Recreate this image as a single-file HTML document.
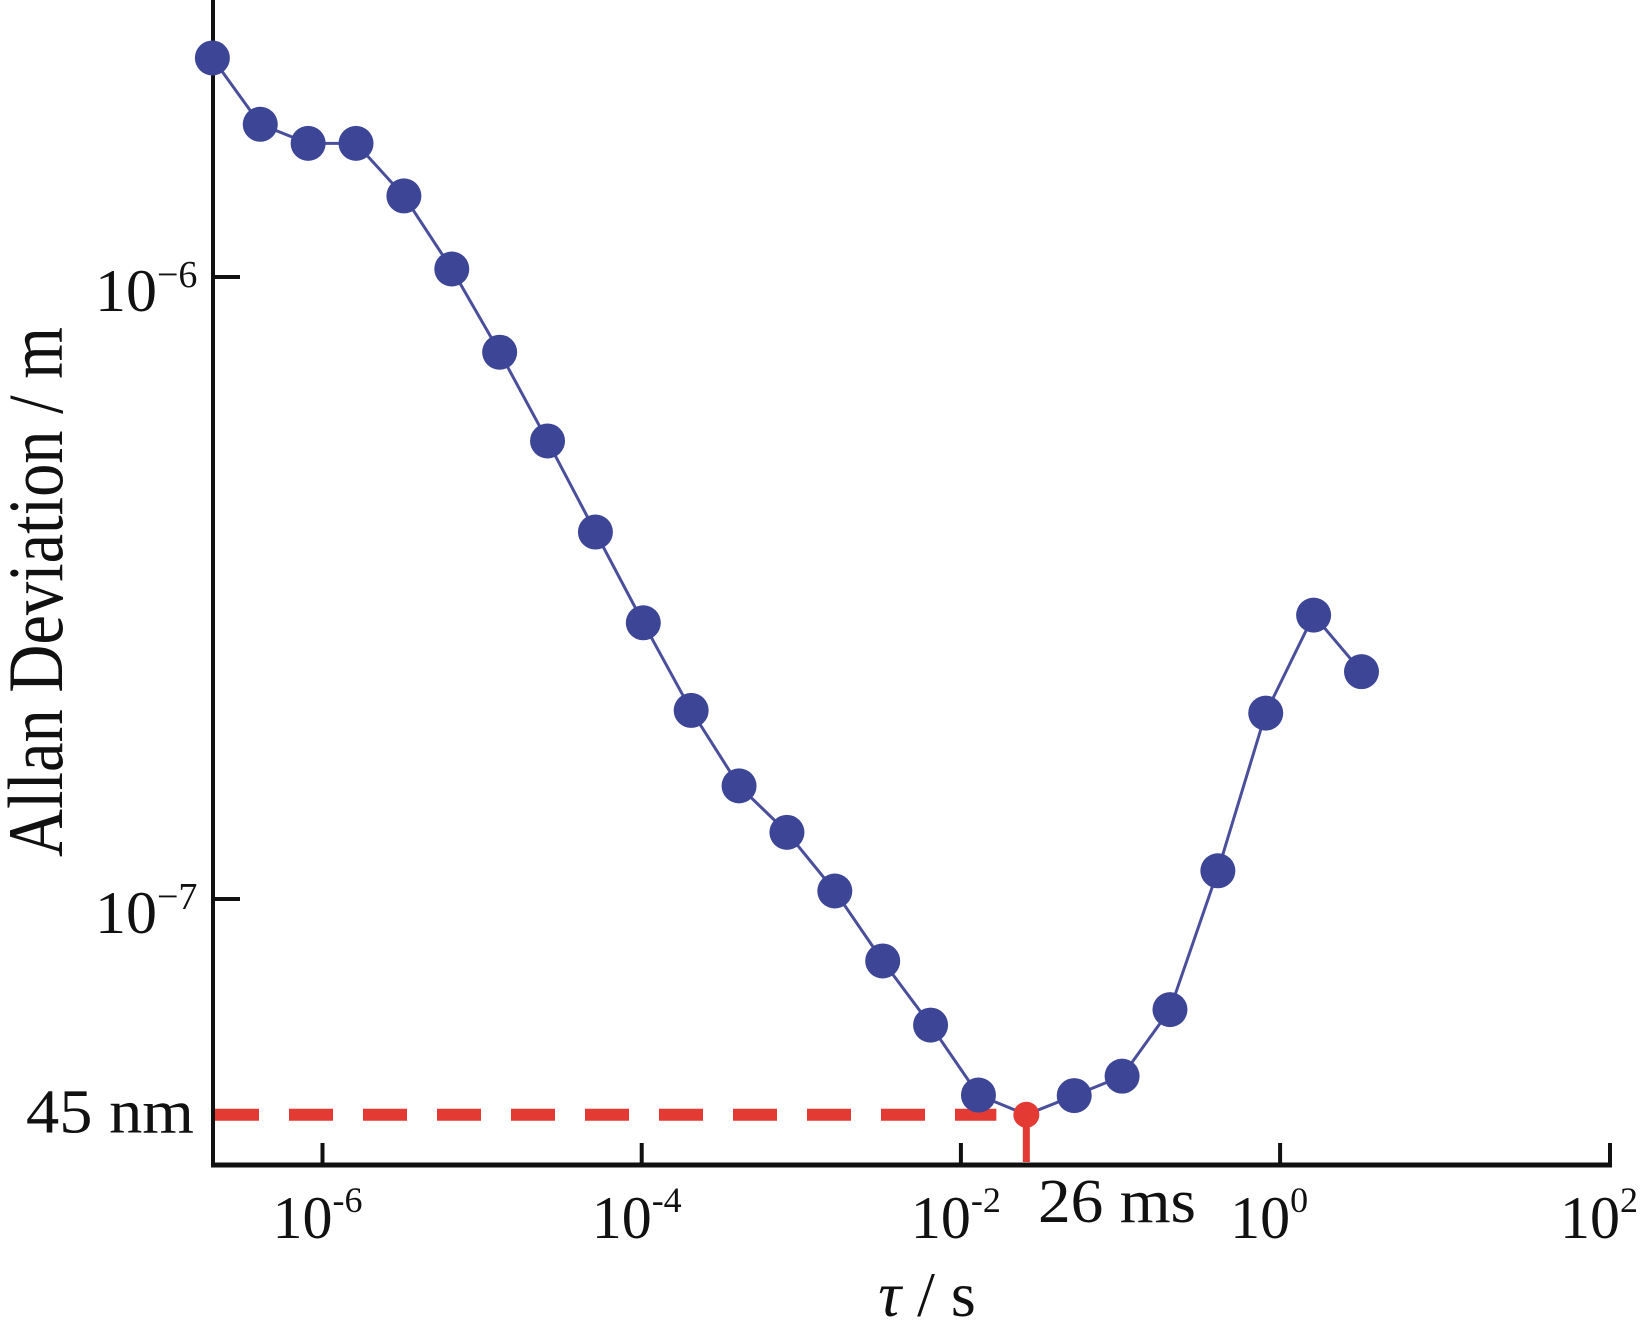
<!DOCTYPE html>
<html><head><meta charset="utf-8"><style>
html,body{margin:0;padding:0;background:#fff;}
svg{display:block;}
text{font-family:"Liberation Serif",serif;fill:#111;}
</style></head><body>
<svg id="chart" width="1652" height="1322" viewBox="0 0 1652 1322" xmlns="http://www.w3.org/2000/svg">
<g id="plot"></g>
</svg>
<script>
const tauExponents = [-6.69,-6.39,-6.09,-5.79,-5.49,-5.19,-4.89,-4.59,-4.29,-3.99,-3.69,-3.39,-3.09,-2.79,-2.49,-2.19,-1.89,-1.59,-1.29,-0.99,-0.69,-0.39,-0.09,0.21,0.51];
const allanValues = [2.25e-6,1.76e-6,1.64e-6,1.64e-6,1.35e-6,1.03e-6,7.57e-7,5.45e-7,3.89e-7,2.78e-7,2.01e-7,1.52e-7,1.28e-7,1.03e-7,7.95e-8,6.27e-8,4.84e-8,4.5e-8,4.83e-8,5.19e-8,6.64e-8,1.11e-7,1.99e-7,2.86e-7,2.32e-7];
const minIndex = 17;
const xTickExps = [-6,-4,-2,0,2];
const yTickExps = [-6,-7];
const minValue = 4.5e-8;
const minLabel = "45 nm";
const minTauLabel = "26 ms";

const NS="http://www.w3.org/2000/svg";
const g=document.getElementById('plot');
function xs(e){return 322.5+(e+6)*159.6;}
function ys(v){return 277+(-6-Math.log10(v))*622;}
function mk(t,a){const el=document.createElementNS(NS,t);for(const k in a)el.setAttribute(k,a[k]);g.appendChild(el);return el;}

let ax=mk('line',{x1:213,y1:0,x2:213,y2:1167,stroke:'#111','stroke-width':4});


ax=mk('line',{x1:211,y1:1165,x2:1612,y2:1165,stroke:'#111','stroke-width':5});



xTickExps.forEach(e=>{
  const x=e===2?1610:xs(e);
  const t=mk('line',{x1:x,y1:1143,x2:x,y2:1165,stroke:'#111','stroke-width':4});
  
  
  const tx=mk('text',{x:x-50,y:1238,'font-size':60});
  
  
  tx.innerHTML='<tspan textLength="60" lengthAdjust="spacingAndGlyphs">10</tspan><tspan dy="-26" font-size="36">'+(e<0?'-':'')+Math.abs(e)+'</tspan>';
});
yTickExps.forEach(e=>{
  const y=ys(Math.pow(10,e));
  const t=mk('line',{x1:213,y1:y,x2:240,y2:y,stroke:'#111','stroke-width':4});
  
  
  const tx=mk('text',{x:95,y:y+34,'font-size':60});
  
  
  tx.innerHTML='<tspan textLength="62" lengthAdjust="spacingAndGlyphs">10</tspan><tspan dy="-24" font-size="38">\u2212'+Math.abs(e)+'</tspan>';
});

let yt=mk('text',{x:-592,y:62,'font-size':78,transform:'rotate(-90)','text-anchor':'middle',textLength:530,lengthAdjust:'spacingAndGlyphs'});
yt.textContent='Allan Deviation / m';


let xt=mk('text',{x:927,y:1316,'font-size':64,'text-anchor':'middle'});
xt.innerHTML='<tspan font-style="italic">τ</tspan> / s';



const mx=xs(tauExponents[minIndex]), my=ys(minValue);
let dl=mk('line',{x1:215,y1:my,x2:mx-30,y2:my,stroke:'#e33a33','stroke-width':12,'stroke-dasharray':'44,30'});


let vl=mk('line',{x1:mx,y1:my,x2:mx,y2:1162,stroke:'#e33a33','stroke-width':7});


let ml=mk('text',{x:26,y:my+18,'font-size':62,textLength:168,lengthAdjust:'spacingAndGlyphs'});
ml.textContent=minLabel;


let tl=mk('text',{x:1038,y:1222,'font-size':62,textLength:158,lengthAdjust:'spacingAndGlyphs'});
tl.textContent=minTauLabel;



const pts=tauExponents.map((e,i)=>xs(e)+','+ys(allanValues[i])).join(' ');
let pl=mk('polyline',{points:pts,fill:'none',stroke:'#4a4f9c','stroke-width':3});


tauExponents.forEach((e,i)=>{
  const isMin=i===minIndex;
  const c=mk('circle',{cx:xs(e),cy:ys(allanValues[i]),r:isMin?13:17.5,fill:isMin?'#e33a33':'#3d4596'});
  
  
});
</script>
</body></html>
